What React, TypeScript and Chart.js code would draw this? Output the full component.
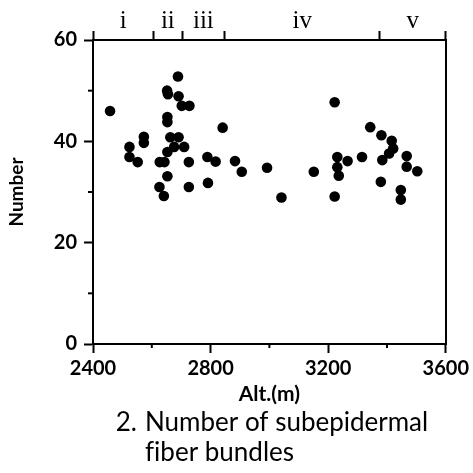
import React, { useEffect, useRef } from "react";
import { Chart, registerables } from "chart.js";

Chart.register(...registerables);

// ---- data ----
const altitude = [
  2458, 2524, 2524, 2552, 2573, 2573, 2627, 2643, 2626, 2641,
  2653, 2653, 2676, 2710, 2663, 2691, 2653, 2653, 2652, 2655,
  2691, 2689, 2702, 2728, 2726, 2726, 2789, 2817, 2791, 2841,
  2883, 2906, 2992, 3041, 3151, 3222, 3222, 3231, 3231, 3236,
  3266, 3315, 3343, 3381, 3416, 3421, 3407, 3384, 3379, 3467,
  3467, 3447, 3447, 3503,
];
const fiberCount = [
  46.0, 38.9, 36.9, 35.9, 40.9, 39.7, 35.9, 35.9, 31.0, 29.2,
  33.1, 37.9, 38.9, 38.9, 40.8, 40.8, 44.8, 43.8, 50.0, 49.3,
  48.9, 52.8, 47.0, 47.0, 35.9, 31.0, 36.9, 36.0, 31.8, 42.7,
  36.1, 34.0, 34.8, 28.9, 34.0, 47.7, 29.1, 36.9, 34.9, 33.2,
  36.1, 36.9, 42.8, 41.2, 40.1, 38.6, 37.6, 36.3, 32.0, 37.1,
  35.0, 30.4, 28.5, 34.1,
];

const xMin = 2400;
const xMax = 3600;
const xStep = 400;
const xMinorTicks = [2600, 3000, 3400];
const yMin = 0;
const yMax = 60;
const yStep = 20;
const yMinorTicks = [10, 30, 50];
const zoneBounds = [2400, 2605, 2704, 2847, 3376, 3600];
const zoneLabels = ["i", "ii", "iii", "iv", "v"];
const xTitle = "Alt.(m)";
const yTitle = "Number";
const captionNumber = "2.";
const captionLines = ["Number of subepidermal", "fiber bundles"];

const SANS = "Lato, 'Open Sans', sans-serif";

const decorPlugin = {
  id: "decor",
  afterDraw(chart: any) {
    const ctx: any = chart.ctx;
    const xs = chart.scales.x;
    const ys = chart.scales.y;
    const { left, bottom, top } = chart.chartArea;
    ctx.save();
    ctx.strokeStyle = "#000";
    ctx.lineWidth = 2;
    yMinorTicks.forEach((v) => {
      const py = ys.getPixelForValue(v);
      ctx.beginPath();
      ctx.moveTo(left - 5, py);
      ctx.lineTo(left, py);
      ctx.stroke();
    });
    xMinorTicks.forEach((v) => {
      const px = xs.getPixelForValue(v);
      ctx.beginPath();
      ctx.moveTo(px, bottom);
      ctx.lineTo(px, bottom + 4);
      ctx.stroke();
    });
    // zone labels above the top axis
    ctx.fillStyle = "#000";
    ctx.font = "25px 'Liberation Serif', serif";
    ctx.textAlign = "center";
    ctx.textBaseline = "alphabetic";
    zoneLabels.forEach((t, i) => {
      const px = xs.getPixelForValue((zoneBounds[i] + zoneBounds[i + 1]) / 2);
      ctx.fillText(t, px, top - 12);
    });
    // caption
    try { ctx.textRendering = "optimizeSpeed"; } catch (e) { /* ignore */ }
    ctx.font = `26px ${SANS}`;
    ctx.textAlign = "left";
    const capX = left + 52;
    const numW = ctx.measureText(captionNumber).width;
    ctx.fillText(captionNumber, capX - numW - 8, 431);
    captionLines.forEach((t, i) => ctx.fillText(t, capX, 431 + i * 30));
    ctx.restore();
  },
};

export default function App() {
  const ref = useRef<HTMLCanvasElement | null>(null);
  useEffect(() => {
    if (!ref.current) return;
    const tickFont = { family: SANS, size: 20, weight: "bold" as const };
    const plain = (v: any) => String(v);
    const chart = new Chart(ref.current, {
      type: "scatter",
      data: {
        datasets: [
          {
            data: altitude.map((a, i) => ({ x: a, y: fiberCount[i] })),
            backgroundColor: "#000",
            borderColor: "#000",
            borderWidth: 0,
            pointRadius: 5.3,
          },
        ],
      },
      options: {
        animation: false,
        responsive: false,
        events: [],
        layout: { padding: { left: 0, right: 0, top: 0, bottom: 66 } },
        plugins: { legend: { display: false }, tooltip: { enabled: false } },
        scales: {
          x: {
            type: "linear",
            position: "bottom",
            min: xMin,
            max: xMax,
            ticks: { stepSize: xStep, color: "#000", font: tickFont, padding: 4, maxRotation: 0, callback: plain },
            grid: { display: true, drawOnChartArea: false, drawTicks: true, tickLength: 9, tickWidth: 2, tickColor: "#000" },
            border: { display: true, color: "#000", width: 2 },
            title: { display: true, text: xTitle, color: "#000", font: { family: SANS, size: 21, weight: "bold" }, padding: 0 },
            afterFit: (s: any) => { s.height = 63; },
          },
          x2: {
            type: "linear",
            position: "top",
            min: xMin,
            max: xMax,
            afterBuildTicks: (s: any) => { s.ticks = zoneBounds.map((v) => ({ value: v })); },
            ticks: { display: false },
            grid: { display: true, drawOnChartArea: false, drawTicks: true, tickLength: 9, tickWidth: 2, tickColor: "#000" },
            border: { display: true, color: "#000", width: 2 },
            afterFit: (s: any) => { s.height = 40; },
          },
          y: {
            type: "linear",
            position: "left",
            min: yMin,
            max: yMax,
            ticks: { stepSize: yStep, color: "#000", font: tickFont, padding: 7, callback: plain },
            grid: { display: true, drawOnChartArea: false, drawTicks: true, tickLength: 9, tickWidth: 2, tickColor: "#000" },
            border: { display: true, color: "#000", width: 2 },
            title: { display: true, text: yTitle, color: "#000", font: { family: SANS, size: 19, weight: "bold" }, padding: { top: 5, bottom: 0 } },
            afterFit: (s: any) => { s.width = 93; },
          },
          y2: {
            type: "linear",
            position: "right",
            min: yMin,
            max: yMax,
            ticks: { display: false },
            grid: { display: false },
            border: { display: true, color: "#000", width: 2 },
            afterFit: (s: any) => { s.width = 27; },
          },
        },
      },
      plugins: [decorPlugin],
    });
    return () => chart.destroy();
  }, []);
  return (
    <div style={{ position: "absolute", left: 0, top: 0, width: 473, height: 473, background: "#fff" }}>
      <canvas ref={ref} width={473} height={473} style={{ width: 473, height: 473, display: "block" }} />
    </div>
  );
}
